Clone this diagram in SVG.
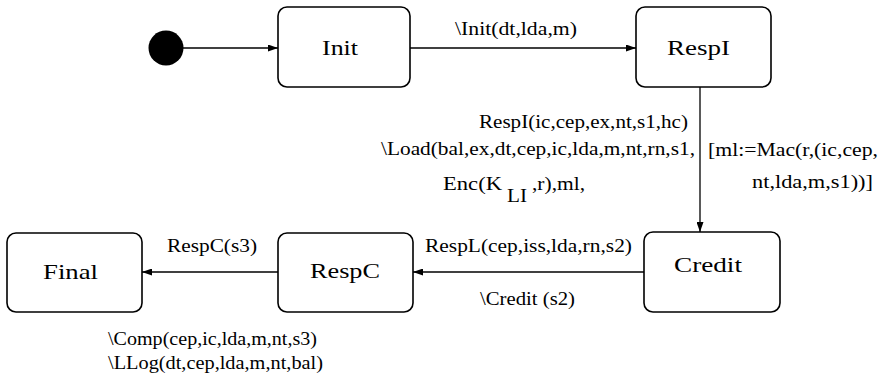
<svg xmlns="http://www.w3.org/2000/svg" width="883" height="379" viewBox="0 0 883 379">
<style>
.box{fill:#fff;stroke:#000;stroke-width:1.6}
text{font-family:'Liberation Serif','DejaVu Serif',serif;fill:#000;font-weight:normal}
.nl{font-size:22px}
.el{font-size:18px}
.cn{stroke:#000;stroke-width:1.3;fill:none;marker-end:url(#ah)}
</style>
<defs>
<marker id="ah" markerUnits="userSpaceOnUse" markerWidth="10" markerHeight="7" refX="10" refY="3.5" orient="auto">
<path d="M0,0 L10,3.5 L0,7 z" fill="#000"/>
</marker>
</defs>
<g id="start"><circle cx="166" cy="48" r="17.5" fill="#000"/></g>
<g id="init"><rect class="box" x="278" y="7" width="132" height="80" rx="9"/><text class="nl" x="322" y="55" textLength="36" lengthAdjust="spacingAndGlyphs">Init</text></g>
<g id="respi"><rect class="box" x="636" y="7" width="135" height="80" rx="9"/><text class="nl" x="667" y="55" textLength="63" lengthAdjust="spacingAndGlyphs">RespI</text></g>
<g id="credit"><rect class="box" x="644" y="232" width="136" height="80" rx="9"/><text class="nl" x="674" y="272" textLength="68" lengthAdjust="spacingAndGlyphs">Credit</text></g>
<g id="respc"><rect class="box" x="278" y="233" width="135" height="79" rx="9"/><text class="nl" x="310" y="278" textLength="70" lengthAdjust="spacingAndGlyphs">RespC</text></g>
<g id="final"><rect class="box" x="7" y="233" width="135" height="79" rx="9"/><text class="nl" x="43" y="279" textLength="55" lengthAdjust="spacingAndGlyphs">Final</text></g>
<g id="connectors">
<line class="cn" x1="183" y1="48" x2="278" y2="48"/>
<line class="cn" x1="410" y1="48" x2="636" y2="48"/>
<line class="cn" x1="700" y1="87" x2="700" y2="232"/>
<line class="cn" x1="644" y1="272" x2="413" y2="272"/>
<line class="cn" x1="278" y1="272" x2="142" y2="272"/>
</g>
<g id="labels">
<text class="el" x="455" y="35" textLength="122" lengthAdjust="spacingAndGlyphs">\Init(dt,lda,m)</text>
<text class="el" x="479" y="128" textLength="209" lengthAdjust="spacingAndGlyphs">RespI(ic,cep,ex,nt,s1,hc)</text>
<text class="el" x="381" y="155" textLength="314" lengthAdjust="spacingAndGlyphs">\Load(bal,ex,dt,cep,ic,lda,m,nt,rn,s1,</text>
<text class="el" x="443" y="190" textLength="59" lengthAdjust="spacingAndGlyphs">Enc(K</text>
<text class="el" x="507" y="202" textLength="20" lengthAdjust="spacingAndGlyphs">LI</text>
<text class="el" x="532" y="190" textLength="53" lengthAdjust="spacingAndGlyphs">,r),ml,</text>
<text class="el" x="708" y="156" textLength="170" lengthAdjust="spacingAndGlyphs">[ml:=Mac(r,(ic,cep,</text>
<text class="el" x="752" y="188" textLength="121" lengthAdjust="spacingAndGlyphs">nt,lda,m,s1))]</text>
<text class="el" x="425" y="252" textLength="207" lengthAdjust="spacingAndGlyphs">RespL(cep,iss,lda,rn,s2)</text>
<text class="el" x="480" y="305" textLength="95" lengthAdjust="spacingAndGlyphs">\Credit (s2)</text>
<text class="el" x="167" y="252" textLength="90" lengthAdjust="spacingAndGlyphs">RespC(s3)</text>
<text class="el" x="108" y="345" textLength="209" lengthAdjust="spacingAndGlyphs">\Comp(cep,ic,lda,m,nt,s3)</text>
<text class="el" x="108" y="369" textLength="215" lengthAdjust="spacingAndGlyphs">\LLog(dt,cep,lda,m,nt,bal)</text>
</g>
</svg>
